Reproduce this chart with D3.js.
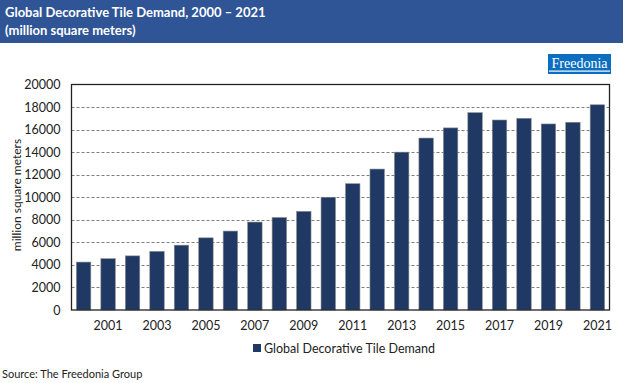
<!DOCTYPE html>
<html><head><meta charset="utf-8">
<script src="https://cdn.jsdelivr.net/npm/d3@7"></script>
<style>body{margin:0;background:#fff;}svg{display:block;}</style>
</head><body><svg id="c" width="626" height="383"></svg>
<script>
const years = ["2000","2001","2002","2003","2004","2005","2006","2007","2008","2009","2010","2011","2012","2013","2014","2015","2016","2017","2018","2019","2020","2021"];
const demand = [4250,4550,4800,5200,5750,6400,7000,7800,8200,8750,10000,11200,12500,14000,15250,16150,17500,16850,17000,16500,16650,18200];
const yTicks = [0,2000,4000,6000,8000,10000,12000,14000,16000,18000,20000];
const titleLines = ["Global Decorative Tile Demand, 2000 \u2013 2021","(million square meters)"];
const seriesName = "Global Decorative Tile Demand";
const yTitle = "million square meters";
const source = "Source: The Freedonia Group";

const font = "Lato, 'Open Sans', sans-serif";
const svg = d3.select("#c");
const L = 71.5, R = 609.5, T = 84.5, B = 310;

// header
svg.append("rect").attr("x",0).attr("y",0).attr("width",623).attr("height",43).attr("fill","#2F5597");
svg.selectAll("text.t").data(titleLines).join("text").attr("class","t")
  .attr("x",5).attr("y",(d,i)=>17+i*18).attr("fill","#fff").attr("font-family",font)
  .attr("font-weight","bold").attr("font-size",13).text(d=>d);

// logo
const lg = svg.append("g");
lg.append("rect").attr("x",548).attr("y",54).attr("width",63).attr("height",20).attr("fill","#0B6EC0");
lg.append("text").attr("x",579.5).attr("y",68).attr("text-anchor","middle").attr("fill","#fff")
  .attr("font-family","'Liberation Serif', serif").attr("font-size",14).text("Freedonia");
lg.append("rect").attr("x",549).attr("y",70.5).attr("width",61).attr("height",1.2).attr("fill","#fff");

const x = d3.scaleBand().domain(years).range([L,R]).paddingInner(0.41).paddingOuter(0.2);
const y = d3.scaleLinear().domain([0,20000]).range([B,T]);

// gridlines
svg.append("g").selectAll("line").data(yTicks.filter(d=>d>0 && d<20000)).join("line")
  .attr("x1",L).attr("x2",R).attr("y1",d=>Math.round(y(d))+0.5).attr("y2",d=>Math.round(y(d))+0.5)
  .attr("stroke","#7f7f7f").attr("stroke-width",1).attr("stroke-dasharray","3,2");

// bars
svg.append("g").selectAll("rect").data(demand).join("rect")
  .attr("x",(d,i)=>x(years[i])).attr("y",d=>y(d)).attr("width",x.bandwidth()).attr("height",d=>B-y(d))
  .attr("fill","#1F3864").attr("stroke","#8a8a8a").attr("stroke-width",0.6);

// frame
svg.append("rect").attr("x",L).attr("y",T).attr("width",R-L).attr("height",B-T)
  .attr("fill","none").attr("stroke","#222").attr("stroke-width",1.3);

// y axis
const ya = svg.append("g").attr("transform",`translate(${L},0)`)
  .call(d3.axisLeft(y).tickValues(yTicks).tickSize(0).tickPadding(11).tickFormat(d3.format("d")));
ya.select(".domain").remove();
ya.selectAll("text").attr("font-family",font).attr("font-size",12.5).attr("fill","#222");

// x axis
const xa = svg.append("g").attr("transform",`translate(0,${B})`)
  .call(d3.axisBottom(x).tickSize(0).tickPadding(11).tickFormat(d=>(+d)%2===1?d:""));
xa.select(".domain").remove();
xa.selectAll("text").attr("font-family",font).attr("font-size",12.5).attr("fill","#222");

// y title
svg.append("text").attr("transform",`translate(21,195) rotate(-90)`).attr("text-anchor","middle")
  .attr("font-family",font).attr("font-size",12).attr("fill","#222").text(yTitle);

// legend
svg.append("rect").attr("x",253).attr("y",344).attr("width",8).attr("height",8).attr("fill","#1F3864");
svg.append("text").attr("x",264).attr("y",353).attr("font-family",font).attr("font-size",12.5)
  .attr("fill","#222").text(seriesName);

// source
svg.append("text").attr("x",2).attr("y",378).attr("font-family",font).attr("font-size",11)
  .attr("fill","#222").text(source);
</script></body></html>
